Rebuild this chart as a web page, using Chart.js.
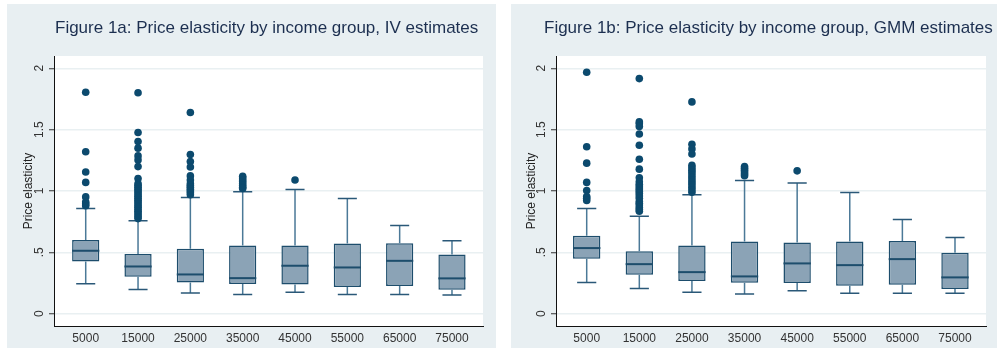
<!DOCTYPE html>
<html>
<head>
<meta charset="utf-8">
<script src="https://cdn.jsdelivr.net/npm/chart.js@4.4.1/dist/chart.umd.min.js"></script>
<style>
  html, body { margin: 0; padding: 0; background: #ffffff; }
  body { width: 997px; height: 356px; position: relative; overflow: hidden; }
  .panel { position: absolute; top: 4px; height: 344px; }
  #p1 { left: 7px; width: 489px; }
  #p2 { left: 511px; width: 486px; }
</style>
</head>
<body>
<div class="panel" id="p1"><canvas id="c1" width="489" height="344"></canvas></div>
<div class="panel" id="p2"><canvas id="c2" width="486" height="344"></canvas></div>
<script>
// Income groups (x axis)
const incomeGroups = [5000, 15000, 25000, 35000, 45000, 55000, 65000, 75000];

// y axis ticks
const yTickValues = [0, 0.5, 1, 1.5, 2];
const yTickLabels = ['0', '.5', '1', '1.5', '2'];

const titleIV = 'Figure 1a: Price elasticity by income group, IV estimates';
const titleGMM = 'Figure 1b: Price elasticity by income group, GMM estimates';
const yTitle = 'Price elasticity';

// IV estimates: box-plot summaries per income group
const ivLowerWhisker = [0.244, 0.198, 0.168, 0.157, 0.176, 0.157, 0.157, 0.152];
const ivQ1           = [0.426, 0.301, 0.255, 0.242, 0.239, 0.217, 0.225, 0.195];
const ivMedian       = [0.513, 0.385, 0.320, 0.290, 0.391, 0.377, 0.431, 0.288];
const ivQ3           = [0.600, 0.486, 0.529, 0.556, 0.556, 0.573, 0.575, 0.483];
const ivUpperWhisker = [0.858, 0.757, 0.947, 0.993, 1.012, 0.939, 0.719, 0.594];
const ivOutliers = [
  [1.805, 1.32, 1.155, 1.07, 0.952, 0.91, 0.895, 0.88],
  [1.80, 1.477, 1.403, 1.349, 1.286, 1.253, 1.199, 1.101, 1.06, 1.045, 1.03, 1.015, 1.0, 0.985,
   0.97, 0.955, 0.94, 0.925, 0.91, 0.895, 0.88, 0.865, 0.85, 0.835, 0.82, 0.805, 0.79, 0.775],
  [1.64, 1.297, 1.24, 1.195, 1.123, 1.09, 1.06, 1.045, 1.03, 1.015, 1.0, 0.985, 0.97],
  [1.12, 1.105, 1.09, 1.075, 1.06, 1.045, 1.03, 1.02],
  [1.09],
  [],
  [],
  []
];

// GMM estimates: box-plot summaries per income group
const gmmLowerWhisker = [0.255, 0.206, 0.176, 0.160, 0.187, 0.166, 0.166, 0.166];
const gmmQ1           = [0.448, 0.318, 0.266, 0.252, 0.250, 0.228, 0.236, 0.201];
const gmmMedian       = [0.535, 0.404, 0.339, 0.304, 0.410, 0.396, 0.445, 0.296];
const gmmQ3           = [0.635, 0.510, 0.556, 0.589, 0.581, 0.589, 0.592, 0.497];
const gmmUpperWhisker = [0.858, 0.795, 0.969, 1.085, 1.066, 0.988, 0.768, 0.621];
const gmmOutliers = [
  [1.967, 1.36, 1.227, 1.07, 1.004, 0.955, 0.94, 0.923],
  [1.916, 1.563, 1.547, 1.525, 1.465, 1.373, 1.259, 1.178, 1.107, 1.075, 1.055, 1.04, 1.025, 1.01,
   0.995, 0.98, 0.96, 0.94, 0.915, 0.9, 0.885, 0.865, 0.85, 0.835],
  [1.726, 1.381, 1.343, 1.302, 1.21, 1.19, 1.17, 1.15, 1.13, 1.11, 1.09, 1.07, 1.05, 1.03, 1.01, 0.99],
  [1.2, 1.185, 1.17, 1.155, 1.14, 1.125],
  [1.164],
  [],
  [],
  []
];

const FONT = "'Liberation Sans', Arial, sans-serif";
const PANEL_BG = '#e8eff2';
const BOX_FILL = '#8ba3b6';
const BOX_LINE = '#1d4d6c';
const STEM = '#4b7997';
const DOT = '#0c4a6e';

// Panel background + white plotting region
const panelBackground = {
  id: 'panelBackground',
  beforeDraw(chart) {
    const { ctx, chartArea: a } = chart;
    ctx.save();
    ctx.fillStyle = PANEL_BG;
    ctx.fillRect(0, 0, chart.width, chart.height);
    ctx.fillStyle = '#ffffff';
    ctx.fillRect(a.left, a.top, a.right - a.left, a.bottom - a.top);
    ctx.restore();
  }
};

// Panel heading, left aligned at a given x
const panelHeading = {
  id: 'panelHeading',
  afterDraw(chart, args, opts) {
    const ctx = chart.ctx;
    ctx.save();
    ctx.font = '17px ' + FONT;
    ctx.fillStyle = '#1c2f50';
    ctx.textAlign = 'left';
    ctx.textBaseline = 'middle';
    ctx.fillText(opts.text, opts.x, opts.y);
    ctx.restore();
  }
};

// Whiskers, caps and median lines, drawn right after the boxes
const boxWhiskers = {
  id: 'boxWhiskers',
  afterDatasetDraw(chart, args, opts) {
    if (args.index !== 0) return;
    const { ctx } = chart;
    const xs = chart.scales.x, ys = chart.scales.y;
    const meta = chart.getDatasetMeta(0);
    const s = opts.stats;
    ctx.save();
    incomeGroups.forEach((g, i) => {
      const x = xs.getPixelForValue(g);
      const bar = meta.data[i];
      const half = bar.width / 2;
      const capHalf = half * 0.7;
      const yLo = ys.getPixelForValue(s.lower[i]);
      const yQ1 = ys.getPixelForValue(s.q1[i]);
      const yQ3 = ys.getPixelForValue(s.q3[i]);
      const yHi = ys.getPixelForValue(s.upper[i]);
      const yMed = ys.getPixelForValue(s.median[i]);
      // stems
      ctx.strokeStyle = STEM;
      ctx.lineWidth = 1.5;
      ctx.beginPath();
      ctx.moveTo(x, yQ3); ctx.lineTo(x, yHi);
      ctx.moveTo(x, yQ1); ctx.lineTo(x, yLo);
      ctx.stroke();
      // caps
      ctx.strokeStyle = '#2a5878';
      ctx.beginPath();
      ctx.moveTo(x - capHalf, yHi); ctx.lineTo(x + capHalf, yHi);
      ctx.moveTo(x - capHalf, yLo); ctx.lineTo(x + capHalf, yLo);
      ctx.stroke();
      // median
      ctx.strokeStyle = BOX_LINE;
      ctx.lineWidth = 2;
      ctx.beginPath();
      ctx.moveTo(x - half, yMed); ctx.lineTo(x + half, yMed);
      ctx.stroke();
    });
    ctx.restore();
  }
};

function makeChart(canvasId, cfg) {
  const boxes = incomeGroups.map((g, i) => ({ x: g, y: [cfg.q1[i], cfg.q3[i]] }));
  const dots = [];
  cfg.outliers.forEach((list, i) => list.forEach(v => dots.push({ x: incomeGroups[i], y: v })));

  return new Chart(document.getElementById(canvasId), {
    type: 'bar',
    data: {
      datasets: [
        {
          type: 'bar',
          data: boxes,
          backgroundColor: BOX_FILL,
          borderColor: BOX_LINE,
          borderWidth: 1.5,
          borderSkipped: false,
          barPercentage: 0.52,
          categoryPercentage: 1,
          order: 1
        },
        {
          type: 'scatter',
          data: dots,
          pointRadius: 3.8,
          pointBackgroundColor: DOT,
          pointBorderWidth: 0,
          order: 0
        }
      ]
    },
    options: {
      responsive: false,
      animation: false,
      devicePixelRatio: 1,
      layout: { padding: { top: 52, right: cfg.padRight, left: 0, bottom: 0 } },
      plugins: {
        legend: { display: false },
        tooltip: { enabled: false },
        panelHeading: { text: cfg.title, x: cfg.titleX, y: 24 },
        boxWhiskers: { stats: { lower: cfg.lower, q1: cfg.q1, median: cfg.median, q3: cfg.q3, upper: cfg.upper } }
      },
      scales: {
        x: {
          type: 'linear',
          offset: false,
          min: cfg.xMin,
          max: cfg.xMax,
          grid: { display: false, drawTicks: false },
          border: { display: true, color: '#111111', width: 1 },
          afterBuildTicks: s => { s.ticks = incomeGroups.map(v => ({ value: v })); },
          afterFit: s => { s.height = 22; },
          ticks: {
            autoSkip: false,
            maxRotation: 0,
            padding: 5,
            color: '#333333',
            font: { family: FONT, size: 12 },
            callback: v => String(v)
          }
        },
        y: {
          type: 'linear',
          position: 'left',
          min: -0.1,
          max: 2.1,
          grid: { color: '#e9f0f2', lineWidth: 1.5, tickLength: 5, tickColor: '#333333', tickWidth: 1 },
          border: { display: true, color: '#111111', width: 1 },
          afterBuildTicks: s => { s.ticks = yTickValues.map(v => ({ value: v })); },
          afterFit: s => { s.width = cfg.yAxisWidth; },
          ticks: {
            minRotation: 90,
            maxRotation: 90,
            crossAlign: 'center',
            padding: 1,
            color: '#333333',
            font: { family: FONT, size: 12 },
            callback: v => yTickLabels[yTickValues.indexOf(v)]
          },
          title: {
            display: true,
            text: yTitle,
            color: '#222222',
            font: { family: FONT, size: 12 },
            padding: { top: cfg.yTitlePad, bottom: 0 }
          }
        }
      }
    },
    plugins: [panelBackground, panelHeading, boxWhiskers]
  });
}

makeChart('c1', {
  title: titleIV, titleX: 48, padRight: 13, yAxisWidth: 47, yTitlePad: 14,
  xMin: -1061, xMax: 80927,
  lower: ivLowerWhisker, q1: ivQ1, median: ivMedian, q3: ivQ3, upper: ivUpperWhisker,
  outliers: ivOutliers
});

makeChart('c2', {
  title: titleGMM, titleX: 33, padRight: 11, yAxisWidth: 45, yTitlePad: 13,
  xMin: -836, xMax: 80894,
  lower: gmmLowerWhisker, q1: gmmQ1, median: gmmMedian, q3: gmmQ3, upper: gmmUpperWhisker,
  outliers: gmmOutliers
});
</script>
</body>
</html>
